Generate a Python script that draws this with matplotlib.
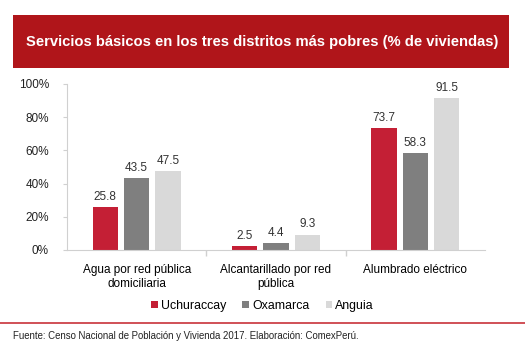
import matplotlib
matplotlib.use('Agg')
import matplotlib.pyplot as plt
from matplotlib.patches import Rectangle
import numpy as np

plt.rcParams['font.family'] = ['Liberation Sans', 'DejaVu Sans']

categorias = ['Agua por red pública\ndomiciliaria', 'Alcantarillado por red\npública', 'Alumbrado eléctrico']
distritos = ['Uchuraccay', 'Oxamarca', 'Anguia']
uchuraccay = [25.8, 2.5, 73.7]
oxamarca = [43.5, 4.4, 58.3]
anguia = [47.5, 9.3, 91.5]
colores = ['#C41F35', '#7F7F7F', '#D9D9D9']

fig = plt.figure(figsize=(5.25, 3.5), dpi=100)

# banner del titulo
fig.patches.append(Rectangle((13/525, 1-68/350), 496/525, 53/350, transform=fig.transFigure,
                             facecolor='#B0151A', edgecolor='none'))
fig.text(0.5, 1-42/350, 'Servicios básicos en los tres distritos más pobres (% de viviendas)',
         color='white', fontsize=10.6, fontweight='bold', ha='center', va='center')

ax = fig.add_axes([67/525, 1-250/350, 418/525, 166/350])
x = np.arange(len(categorias))
w = 0.18
sep = 0.225
for i, (serie, col) in enumerate(zip([uchuraccay, oxamarca, anguia], colores)):
    pos = x + (i - 1) * sep
    ax.bar(pos, serie, width=w, color=col, label=distritos[i])
    for p, v in zip(pos, serie):
        ax.text(p, v + 2.5, f'{v:.1f}', ha='center', va='bottom', fontsize=8.5, color='#333333')

ax.set_xlim(-0.5, 2.5)
ax.set_ylim(0, 100)
ax.set_yticks(range(0, 101, 20))
ax.set_yticklabels([f'{t}%' for t in range(0, 101, 20)])
ax.set_xticks([0.5, 1.5])
ax.set_xticklabels([])
ax.set_xticks(x, minor=True)
ax.set_xticklabels(categorias, minor=True, fontsize=8.5)
ax.tick_params(axis='x', which='major', length=4, color='#D0D0D0', width=1)
ax.tick_params(axis='x', which='minor', length=0, pad=10)
ax.tick_params(axis='y', length=3, color='#D0D0D0', labelsize=8.5, labelcolor='#222222', pad=10)
for s in ['top', 'right']:
    ax.spines[s].set_visible(False)
for s in ['left', 'bottom']:
    ax.spines[s].set_color('#D0D0D0')

leg = fig.legend(loc='center', bbox_to_anchor=(0.5, 1-306/350), ncol=3, frameon=False,
                 fontsize=8.9, handlelength=0.55, handleheight=0.55, handletextpad=0.25,
                 columnspacing=1.3)

fig.add_artist(plt.Line2D([0, 1], [1-323/350, 1-323/350], transform=fig.transFigure,
                          color='#C8323A', linewidth=1.2))
fig.text(13/525, 1-336/350, 'Fuente: Censo Nacional de Población y Vivienda 2017. Elaboración: ComexPerú.',
         fontsize=6.9, ha='left', va='center', color='#222222')

fig.savefig('out.png', dpi=100)
